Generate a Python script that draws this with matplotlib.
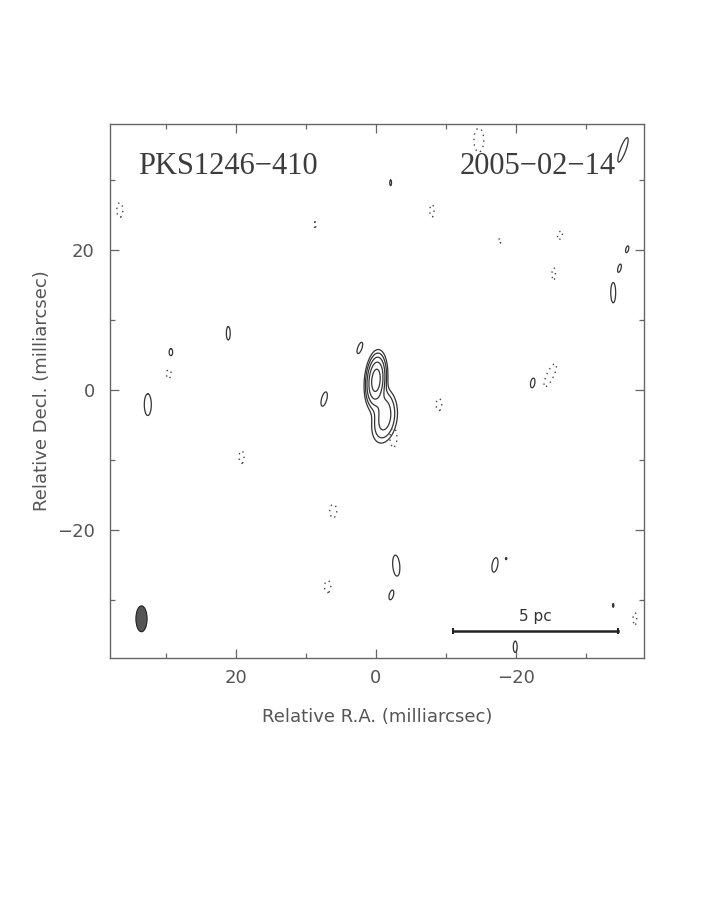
import numpy as np
import matplotlib
matplotlib.use('Agg')
import matplotlib.pyplot as plt
from matplotlib.patches import Ellipse
from matplotlib.ticker import MultipleLocator

# source and epoch
source = 'PKS1246\u2212410'
epoch = '2005\u221202\u221214'

# core + jet model components (mas): ra, dec, amplitude (x lowest level), sigma across, sigma along, pa
comp_ra = [0.0, -1.2, -1.2]
comp_dec = [1.4, -2.0, -4.5]
comp_amp = [24.0, 3.0, 5.0]
comp_sx = [0.66, 0.85, 0.95]
comp_sy = [1.74, 1.4, 1.75]
comp_pa = [-5.0, 0.0, -12.0]

# positive noise islands (solid): ra, dec, width, height, pa
pos_ra = [-35.3, -2.1, -35.9, -34.8, -33.9, 21.1, 29.3, 32.6, 2.3, 7.4, -22.4, -2.9, -2.2, -17.0, -18.6, -19.9, -33.9]
pos_dec = [34.3, 29.6, 20.1, 17.4, 13.9, 8.1, 5.4, -2.1, 6.0, -1.3, 1.0, -25.1, -29.3, -25.0, -24.1, -36.7, -30.8]
pos_w = [0.8, 0.25, 0.4, 0.45, 0.7, 0.55, 0.5, 1.0, 0.6, 0.75, 0.6, 1.0, 0.6, 0.8, 0.2, 0.55, 0.2]
pos_h = [3.7, 0.8, 1.0, 1.2, 2.9, 1.9, 1.0, 3.1, 1.7, 2.1, 1.4, 3.0, 1.4, 2.1, 0.3, 1.6, 0.5]
pos_pa = [-20, 0, -15, -15, 0, 0, 0, 0, -20, -15, -10, 5, -15, -10, 0, 0, 0]

# negative noise islands (dotted)
neg_ra = [-14.7, 36.6, 8.7, -8.0, -17.7, -26.3, -25.4, 29.6, 19.2, -2.5, -9.0, -24.9, 6.1, 6.9, -37.0]
neg_dec = [35.7, 25.7, 23.6, 25.6, 21.3, 22.1, 16.6, 2.3, -9.6, -6.8, -2.1, 2.1, -17.3, -28.1, -32.7]
neg_w = [1.4, 0.85, 0.3, 0.6, 0.3, 0.6, 0.5, 0.7, 0.7, 1.0, 0.8, 1.0, 1.0, 0.9, 0.5]
neg_h = [3.4, 2.1, 0.8, 1.8, 0.7, 1.3, 1.7, 1.2, 1.8, 2.7, 1.7, 3.6, 1.9, 1.7, 1.7]
neg_pa = [0, 0, 0, 0, 0, -20, 0, 0, 0, 0, 0, -25, 0, 0, 0]

# contour levels (multiples of the lowest level)
pos_levels = [1, 2, 4, 8, 16]
neg_levels = [-1]

# restoring beam (mas)
beam_ra, beam_dec, beam_maj, beam_min, beam_pa = 33.5, -32.7, 3.7, 1.6, 0.0

# 5 pc scale bar
bar_ra = [-11.0, -34.6]
bar_dec = -34.4
bar_label = '5 pc'


def gauss(X, Y, x0, y0, amp, sx, sy, pa):
    t = np.deg2rad(pa)
    dx = X - x0
    dy = Y - y0
    u = dx * np.cos(t) - dy * np.sin(t)
    v = dx * np.sin(t) + dy * np.cos(t)
    return amp * np.exp(-0.5 * ((u / sx) ** 2 + (v / sy) ** 2))


ra = np.arange(-38.5, 38.5, 0.05)
dec = np.arange(-38.5, 38.5, 0.05)
X, Y = np.meshgrid(ra, dec)

img_pos = np.zeros_like(X)
for i in range(len(comp_ra)):
    img_pos += gauss(X, Y, comp_ra[i], comp_dec[i], comp_amp[i], comp_sx[i], comp_sy[i], comp_pa[i])
# islands: lowest contour traces the given ellipse
for i in range(len(pos_ra)):
    img_pos += gauss(X, Y, pos_ra[i], pos_dec[i], np.exp(0.5), pos_w[i] / 2, pos_h[i] / 2, pos_pa[i])

img_neg = np.zeros_like(X)
for i in range(len(neg_ra)):
    img_neg -= gauss(X, Y, neg_ra[i], neg_dec[i], np.exp(0.5), neg_w[i] / 2, neg_h[i] / 2, neg_pa[i])

fig = plt.figure(figsize=(7.06, 9.13), dpi=100)
ax = fig.add_axes([110 / 706, 255 / 913, 534 / 706, 534 / 913])

ax.contour(X, Y, img_pos, levels=pos_levels, colors='#333333', linewidths=0.9, linestyles='solid')
ax.contour(X, Y, img_neg, levels=neg_levels, colors='#444444', linewidths=1.0, linestyles=[(0, (1, 3))])

beam = Ellipse((beam_ra, beam_dec), width=beam_min, height=beam_maj, angle=beam_pa,
               facecolor='#555555', edgecolor='#222222', linewidth=0.8)
ax.add_patch(beam)

ax.plot(bar_ra, [bar_dec, bar_dec], color='#222222', linewidth=1.8, marker='|', markersize=5, markeredgewidth=1.5)
ax.text(np.mean(bar_ra), bar_dec + 1.0, bar_label, ha='center', va='bottom', fontsize=11, color='#333333')

ax.set_xlim(38, -38.3)
ax.set_ylim(-38.3, 38)

ax.xaxis.set_major_locator(MultipleLocator(20))
ax.xaxis.set_minor_locator(MultipleLocator(10))
ax.yaxis.set_major_locator(MultipleLocator(20))
ax.yaxis.set_minor_locator(MultipleLocator(10))
ax.tick_params(which='both', direction='in', top=True, right=True, colors='#666666',
               labelcolor='#555555', labelsize=13)
ax.tick_params(which='major', length=6.5, width=0.9)
ax.tick_params(which='minor', length=3.6, width=0.9)
ax.tick_params(axis='x', which='major', pad=8)
ax.tick_params(axis='y', which='major', pad=11)
for s in ax.spines.values():
    s.set_color('#666666')
    s.set_linewidth(1.0)

ax.set_xlabel('Relative R.A. (milliarcsec)', fontsize=13, color='#555555', labelpad=15)
ax.set_ylabel('Relative Decl. (milliarcsec)', fontsize=13, color='#555555', labelpad=4)

ax.text(0.052, 0.92, source, transform=ax.transAxes, fontsize=22, color='#3c3c3c',
        family='Liberation Serif', ha='left', va='center')
ax.text(0.948, 0.92, epoch, transform=ax.transAxes, fontsize=22, color='#3c3c3c',
        family='Liberation Serif', ha='right', va='center')

fig.savefig('out.png', dpi=100)
